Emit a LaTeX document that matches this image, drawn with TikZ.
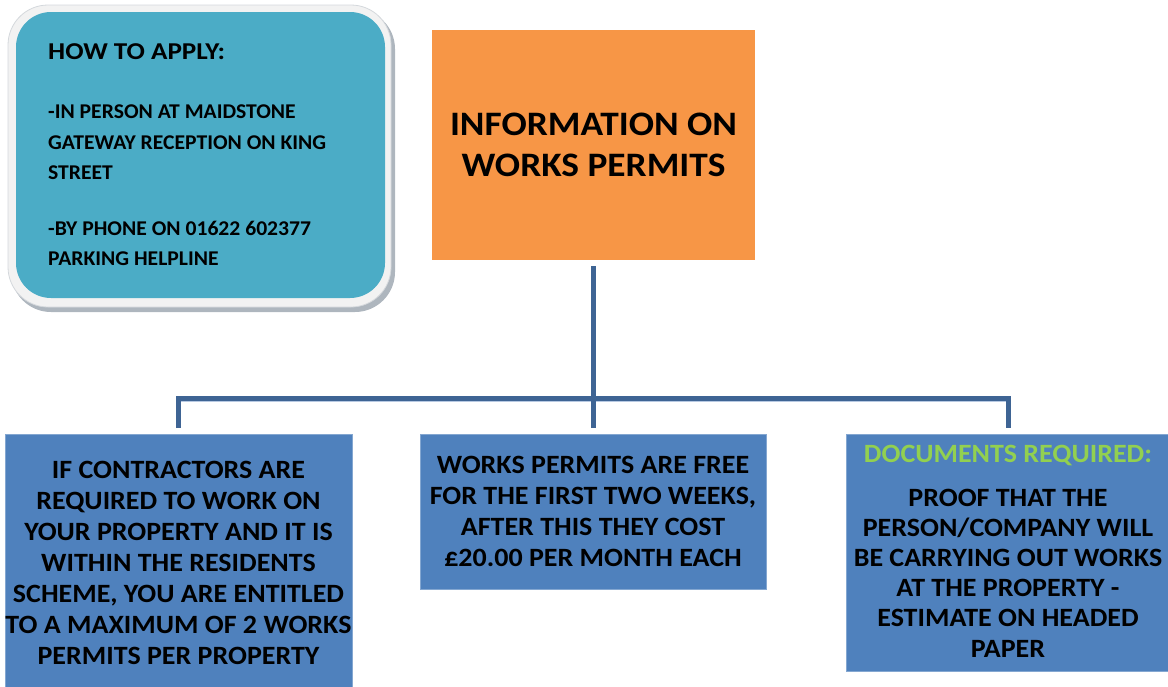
\documentclass[tikz,border=0pt]{standalone}
\usepackage{fontspec}
\setmainfont{Carlito}
\newfontfamily\fhow[FakeStretch=1.12]{Carlito}
\newfontfamily\fbody[FakeStretch=1.03]{Carlito}
\newfontfamily\fblue[FakeStretch=1.06]{Carlito}
\newfontfamily\ftitle[FakeStretch=1.09]{Carlito}
\definecolor{teal}{HTML}{4BACC6}
\definecolor{orng}{HTML}{F79646}
\definecolor{bbox}{HTML}{4F81BD}
\definecolor{conn}{HTML}{3E6494}
\definecolor{connsh}{HTML}{B7C9E2}
\definecolor{grn}{HTML}{92D050}
\definecolor{frame}{HTML}{F2F2F2}
\definecolor{frameline}{HTML}{D4D8DC}
\definecolor{frameshadow}{HTML}{AEB6BE}
\begin{document}
\begin{tikzpicture}[x=1pt,y=1pt,
  boxtxt/.style={font=\fblue\bfseries\fontsize{26.4}{31}\selectfont, align=center, text=black, anchor=base, inner sep=0},
  bodytxt/.style={font=\fbody\bfseries\fontsize{21}{30}\selectfont, anchor=base west, inner sep=0},
  bluebox/.style={fill=bbox, draw=bbox!70!white, line width=0.6pt, anchor=north west, inner sep=0},
  connector/.style={draw=conn, line width=5pt},
  connshadow/.style={draw=connsh, line width=1.6pt}]
\useasboundingbox (0,0) rectangle (1168,-686);
% top-left rounded box
\fill[frameshadow, rounded corners=40pt] (11,-9) rectangle (395,-312);
\filldraw[fill=frame, draw=frameline, line width=0.8pt, rounded corners=40pt] (8,-5) rectangle (391,-307);
\fill[teal, rounded corners=35pt] (16,-12) rectangle (385,-298);
\node[anchor=base west, inner sep=0, font=\fhow\bfseries\fontsize{24.2}{30}\selectfont] (howto) at (48,-59) {HOW TO APPLY:};
\node[bodytxt] (inperson) at (48,-118) {-IN PERSON AT MAIDSTONE};
\node[bodytxt] (gateway) at (48,-149) {GATEWAY RECEPTION ON KING};
\node[bodytxt] (street) at (48,-179) {STREET};
\node[bodytxt] (phone) at (48,-235) {-BY PHONE ON 01622 602377};
\node[bodytxt] (helpline) at (48,-265) {PARKING HELPLINE};
% title box
\node[fill=orng, minimum width=323pt, minimum height=230pt, inner sep=0, anchor=north west] (title) at (432,-30) {};
\node[anchor=base, inner sep=0, align=center, font=\ftitle\bfseries\fontsize{34.3}{41}\selectfont] (titletxt) at (593.5,-176)
      {INFORMATION ON\\WORKS PERMITS};
% bottom boxes
\node[bluebox, minimum width=347pt, minimum height=253pt] (b1) at (5,-434) {};
\node[bluebox, minimum width=346pt, minimum height=155pt] (b2) at (420,-434) {};
\node[bluebox, minimum width=323pt, minimum height=237pt] (b3) at (846,-434) {};
\node[boxtxt] (t1) at (178.5,-664)
  {IF CONTRACTORS ARE\\REQUIRED TO WORK ON\\YOUR PROPERTY AND IT IS\\WITHIN THE RESIDENTS\\SCHEME, YOU ARE ENTITLED\\TO A MAXIMUM OF 2 WORKS\\PERMITS PER PROPERTY};
\node[boxtxt] (t2) at (593,-566)
  {WORKS PERMITS ARE FREE\\FOR THE FIRST TWO WEEKS,\\AFTER THIS THEY COST\\£20.00 PER MONTH EACH};
\node[boxtxt, text=grn] (t3h) at (1008,-462) {DOCUMENTS REQUIRED:};
\node[boxtxt, font=\fblue\bfseries\fontsize{26.4}{30.2}\selectfont] (t3) at (1008,-657)
  {PROOF THAT THE\\PERSON/COMPANY WILL\\BE CARRYING OUT WORKS\\AT THE PROPERTY -\\ESTIMATE ON HEADED\\PAPER};
% connectors
\coordinate (hub) at (593,-398);
\coordinate (lft) at (178,-398);
\coordinate (rgt) at (1008,-398);
\draw[connshadow] ([xshift=2.5pt,yshift=-3.2pt]lft) -- ([xshift=-2.5pt,yshift=-3.2pt]rgt);
\draw[connector] ([yshift=-6pt]title.south -| hub) -- ([yshift=6pt]hub |- b2.north);
\draw[connector] ([yshift=6pt]lft |- b1.north) -- (lft) -- (rgt) -- ([yshift=6pt]rgt |- b3.north);
\end{tikzpicture}
\end{document}
